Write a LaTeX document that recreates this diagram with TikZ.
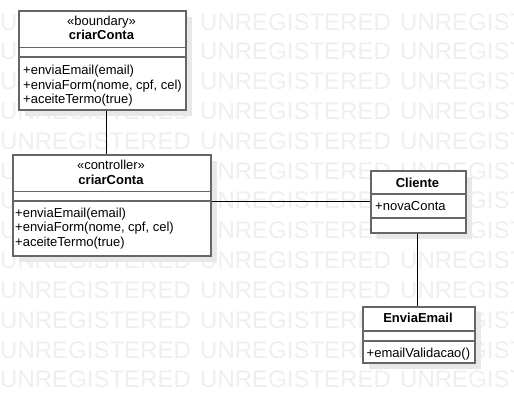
\documentclass[tikz,border=0pt]{standalone}
\usepackage{fontspec}
\setmainfont{Liberation Sans}
\usetikzlibrary{shadows}
\definecolor{wm}{RGB}{239,239,239}
\definecolor{shd}{RGB}{232,232,232}
\definecolor{bord}{RGB}{102,102,102}
\tikzset{
  wmtext/.style={inner sep=0pt, anchor=base west, text=wm, font=\fontsize{24}{28}\selectfont},
  umlbox/.style={draw=bord, line width=1.6pt, fill=white, anchor=north west, inner sep=0pt,
     drop shadow={shadow xshift=6pt, shadow yshift=-6pt, fill=shd, opacity=1}},
  divider/.style={draw=bord, line width=1.6pt},
  lbl/.style={inner sep=0pt, anchor=base, font=\fontsize{13}{15}\selectfont},
  blbl/.style={lbl, font=\fontsize{13}{15}\selectfont\bfseries},
  mlbl/.style={inner sep=0pt, anchor=base west, font=\fontsize{13}{15}\selectfont},
  conn/.style={draw=black, line width=0.9pt}
}
\begin{document}
\begin{tikzpicture}[x=1pt,y=-1pt]
\useasboundingbox (0,0) rectangle (514,403);
\fill[white] (0,0) rectangle (514,403);
% watermark
\foreach \r in {0,...,12}{
  \foreach \c in {0,1,2}{
    \node[wmtext] (wm-\r-\c) at (200*\c, 30.2+29.8*\r) {UNREGISTERED};
  }
}
% boundary box
\node[umlbox, minimum width=167pt, minimum height=99.5pt] (bnd) at (18,10) {};
\draw[divider] (bnd.west |- 0,47.7) -- (bnd.east |- 0,47.7);
\draw[divider] (bnd.west |- 0,57.3) -- (bnd.east |- 0,57.3);
\node[lbl] (bnd-st) at (101.5,25.5) {«boundary»};
\node[blbl] (bnd-nm) at (101.5,39.6) {criarConta};
\node[mlbl] (bnd-m1) at (23,74.6) {+enviaEmail(email)};
\node[mlbl] (bnd-m2) at (23,89.3) {+enviaForm(nome, cpf, cel)};
\node[mlbl] (bnd-m3) at (23,104) {+aceiteTermo(true)};
% controller box
\node[umlbox, minimum width=198pt, minimum height=101pt] (ctl) at (12,154) {};
\draw[divider] (ctl.west |- 0,191.7) -- (ctl.east |- 0,191.7);
\draw[divider] (ctl.west |- 0,201) -- (ctl.east |- 0,201);
\node[lbl] (ctl-st) at (111,169.6) {«controller»};
\node[blbl] (ctl-nm) at (111,184.6) {criarConta};
\node[mlbl] (ctl-m1) at (15,217.6) {+enviaEmail(email)};
\node[mlbl] (ctl-m2) at (15,232) {+enviaForm(nome, cpf, cel)};
\node[mlbl] (ctl-m3) at (15,246.6) {+aceiteTermo(true)};
% Cliente box
\node[umlbox, minimum width=95pt, minimum height=62pt] (cli) at (370,170) {};
\draw[divider] (cli.west |- 0,194) -- (cli.east |- 0,194);
\draw[divider] (cli.west |- 0,218) -- (cli.east |- 0,218);
\node[blbl] (cli-nm) at (417.5,187.6) {Cliente};
\node[mlbl] (cli-a1) at (375,210.6) {+novaConta};
% EnviaEmail box
\node[umlbox, minimum width=112pt, minimum height=56pt] (env) at (362,306) {};
\draw[divider] (env.west |- 0,331) -- (env.east |- 0,331);
\draw[divider] (env.west |- 0,341) -- (env.east |- 0,341);
\node[blbl] (env-nm) at (418,322.6) {EnviaEmail};
\node[mlbl] (env-m1) at (366.5,357.5) {+emailValidacao()};
% connectors
\draw[conn] (bnd.south -| 106,0) -- (ctl.north -| 106,0);
\draw[conn] (ctl.east |- 0,201.7) -- (cli.west |- 0,201.7);
\draw[conn] (cli.south -| 417,0) -- (env.north -| 417,0);
\end{tikzpicture}
\end{document}
